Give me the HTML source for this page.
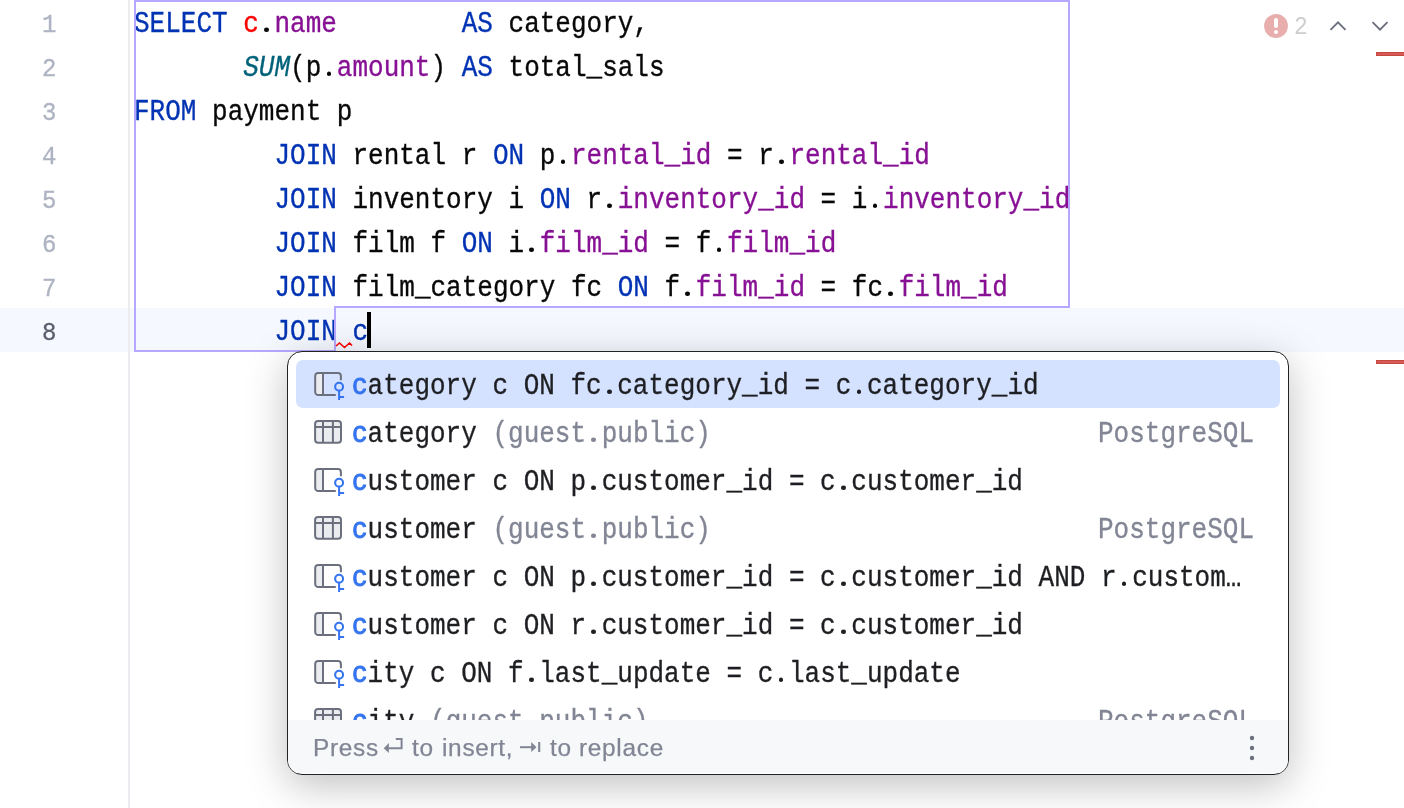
<!DOCTYPE html>
<html><head><meta charset="utf-8">
<style>
*{margin:0;padding:0;box-sizing:border-box}
html,body{width:1404px;height:808px;overflow:hidden;background:#fff}
body{position:relative;font-family:"Liberation Mono",monospace}
.code,.t,.db,.ln{will-change:transform;-webkit-text-stroke:0.3px currentColor}
.curline{position:absolute;left:0;top:308px;width:1404px;height:44px;background:#F5F8FE}
.gsep{position:absolute;left:128px;top:0;width:2px;height:808px;background:#EBECF0}
.ln{position:absolute;left:30px;width:38.4px;text-align:center;font-size:24px;color:#AEB3C2;line-height:44px;height:44px;transform:scaleY(1.10);transform-origin:0 29px;margin-top:4px}
.ln.cur{color:#5A5D6B}
.code{position:absolute;left:134px;font-size:26px;line-height:44px;height:44px;white-space:pre;color:#080808;transform:scaleY(1.10);transform-origin:0 29px;margin-top:3px}
.k{color:#0033B3}
.f{color:#871094}
.fn{color:#00627A;font-style:italic}
.r{color:#FF0000}
.outline{position:absolute;left:0;top:0}
.caret{position:absolute;left:367px;top:312px;width:4px;height:36px;background:#000}

.pop{position:absolute;left:287px;top:351px;width:1002px;height:424px;border:1px solid #222;border-radius:15px;background:#fff;overflow:hidden;box-shadow:0 10px 40px rgba(0,0,0,0.25)}
.sel{position:absolute;left:8px;top:8px;width:984px;height:48px;background:#D4E2FF;border-radius:7px}
.row{position:absolute;left:0;width:1000px;height:48px}
.ic{position:absolute;left:24px;top:10px}
.t{position:absolute;left:64px;top:0;font-size:26px;line-height:44px;white-space:pre;color:#1E1F22;transform:scaleY(1.10);transform-origin:0 29px;margin-top:5px}
.t b{color:#3574F0;font-weight:normal;-webkit-text-stroke:0.9px #3574F0}
.t i{font-style:normal;color:#818594}
.db{position:absolute;right:34px;top:0;font-size:26px;line-height:44px;white-space:pre;color:#818594;transform:scaleY(1.10);transform-origin:0 29px;margin-top:5px}
.foot{position:absolute;left:0;top:368px;width:1000px;height:53px;background:#F7F8FA}
.fw{will-change:transform;-webkit-text-stroke:0.25px currentColor;position:absolute;top:1px;font-family:"Liberation Sans",sans-serif;font-size:24.4px;line-height:53px;color:#818594;white-space:pre;letter-spacing:0.7px}
.fa{position:absolute}
.dots{position:absolute;left:961px;top:15px}
.cnt{position:absolute;left:1294.5px;top:4px;font-family:"Liberation Sans",sans-serif;font-size:23px;line-height:44px;color:#CDCDCD}
.u{position:relative;top:-1px}
.p{position:relative;-webkit-text-fill-color:transparent;-webkit-text-stroke:0}
.p::after{content:"";position:absolute;left:5.3px;top:17.9px;width:4.6px;height:3.8px;border-radius:50%;background:currentColor}
</style></head><body>
<div class="curline"></div>
<div class="gsep"></div>

<div class="ln" style="top:0">1</div>
<div class="ln" style="top:44px">2</div>
<div class="ln" style="top:88px">3</div>
<div class="ln" style="top:132px">4</div>
<div class="ln" style="top:176px">5</div>
<div class="ln" style="top:220px">6</div>
<div class="ln" style="top:264px">7</div>
<div class="ln cur" style="top:308px">8</div>

<div class="code" style="top:0"><span class="k">SELECT</span> <span class="r">c</span><span class="p">.</span><span class="f">name</span>        <span class="k">AS</span> category,</div>
<div class="code" style="top:44px">       <span class="fn">SUM</span>(p<span class="p">.</span><span class="f">amount</span>) <span class="k">AS</span> total<span class="u">_</span>sals</div>
<div class="code" style="top:88px"><span class="k">FROM</span> payment p</div>
<div class="code" style="top:132px">         <span class="k">JOIN</span> rental r <span class="k">ON</span> p<span class="p">.</span><span class="f">rental<span class="u">_</span>id</span> = r<span class="p">.</span><span class="f">rental<span class="u">_</span>id</span></div>
<div class="code" style="top:176px">         <span class="k">JOIN</span> inventory i <span class="k">ON</span> r<span class="p">.</span><span class="f">inventory<span class="u">_</span>id</span> = i<span class="p">.</span><span class="f">inventory<span class="u">_</span>id</span></div>
<div class="code" style="top:220px">         <span class="k">JOIN</span> film f <span class="k">ON</span> i<span class="p">.</span><span class="f">film<span class="u">_</span>id</span> = f<span class="p">.</span><span class="f">film<span class="u">_</span>id</span></div>
<div class="code" style="top:264px">         <span class="k">JOIN</span> film<span class="u">_</span>category fc <span class="k">ON</span> f<span class="p">.</span><span class="f">film<span class="u">_</span>id</span> = fc<span class="p">.</span><span class="f">film<span class="u">_</span>id</span></div>
<div class="code" style="top:308px">         <span class="k">JOIN</span> <span class="k">c</span></div>

<svg class="outline" width="1404" height="808">
<path d="M135,1 H1069 V307 H335 V351 H135 Z" fill="none" stroke="#B7A8FF" stroke-width="2"/>
<path d="M336,346 L339.5,343 L344.5,347.5 L349.5,343 L352,345.5" fill="none" stroke="#FF0000" stroke-width="1.6"/>
</svg>
<div class="caret"></div>
<svg style="position:absolute;left:0;top:0" width="1404" height="808">
<circle cx="1276" cy="26" r="11.9" fill="#E8ADAD"/>
<path d="M1276,20 V26" stroke="#fff" stroke-width="4" stroke-linecap="round"/>
<circle cx="1276" cy="32" r="2.05" fill="#fff"/>
<path d="M1330.5,29.8 L1338,22.3 L1345.5,29.8" fill="none" stroke="#6C707E" stroke-width="1.9"/>
<path d="M1372.5,22.2 L1380,29.7 L1387.5,22.2" fill="none" stroke="#6C707E" stroke-width="1.9"/>
<rect x="1376.5" y="52.5" width="28" height="3" fill="#D35C57" stroke="#C9473F" stroke-width="1"/>
<rect x="1376.5" y="360.5" width="28" height="3" fill="#D35C57" stroke="#C9473F" stroke-width="1"/>
</svg>
<div class="cnt">2</div>


<div class="pop">
<div class="sel"></div>
<div class="row" style="top:8px"><svg class="ic" width="36" height="34" viewBox="0 0 36 34"><use href="#ij"/></svg><span class="t"><b>c</b>ategory c ON fc<span class="p">.</span>category<span class="u">_</span>id = c<span class="p">.</span>category<span class="u">_</span>id</span></div>
<div class="row" style="top:56px"><svg class="ic" width="36" height="34" viewBox="0 0 36 34"><use href="#it"/></svg><span class="t"><b>c</b>ategory <i>(guest<span class="p">.</span>public)</i></span><span class="db">PostgreSQL</span></div>
<div class="row" style="top:104px"><svg class="ic" width="36" height="34" viewBox="0 0 36 34"><use href="#ij"/></svg><span class="t"><b>c</b>ustomer c ON p<span class="p">.</span>customer<span class="u">_</span>id = c<span class="p">.</span>customer<span class="u">_</span>id</span></div>
<div class="row" style="top:152px"><svg class="ic" width="36" height="34" viewBox="0 0 36 34"><use href="#it"/></svg><span class="t"><b>c</b>ustomer <i>(guest<span class="p">.</span>public)</i></span><span class="db">PostgreSQL</span></div>
<div class="row" style="top:200px"><svg class="ic" width="36" height="34" viewBox="0 0 36 34"><use href="#ij"/></svg><span class="t"><b>c</b>ustomer c ON p<span class="p">.</span>customer<span class="u">_</span>id = c<span class="p">.</span>customer<span class="u">_</span>id AND r<span class="p">.</span>custom…</span></div>
<div class="row" style="top:248px"><svg class="ic" width="36" height="34" viewBox="0 0 36 34"><use href="#ij"/></svg><span class="t"><b>c</b>ustomer c ON r<span class="p">.</span>customer<span class="u">_</span>id = c<span class="p">.</span>customer<span class="u">_</span>id</span></div>
<div class="row" style="top:296px"><svg class="ic" width="36" height="34" viewBox="0 0 36 34"><use href="#ij"/></svg><span class="t"><b>c</b>ity c ON f<span class="p">.</span>last<span class="u">_</span>update = c<span class="p">.</span>last<span class="u">_</span>update</span></div>
<div class="row" style="top:344px"><svg class="ic" width="36" height="34" viewBox="0 0 36 34"><use href="#it"/></svg><span class="t"><b>c</b>ity <i>(guest<span class="p">.</span>public)</i></span><span class="db">PostgreSQL</span></div>
<div class="foot">
<span class="fw" style="left:24.5px">Press</span>
<svg class="fa" style="left:94px;top:17px" width="22" height="18" viewBox="0 0 22 18"><path d="M1.7,11.3 L6.9,6.1 V16 Z" fill="#818594"/><path d="M6.5,11.2 H19.6 V2 H13.8" fill="none" stroke="#818594" stroke-width="2"/></svg>
<span class="fw" style="left:123.5px">to</span>
<span class="fw" style="left:153.5px">insert,</span>
<svg class="fa" style="left:230px;top:14px" width="24" height="18" viewBox="0 0 24 18"><path d="M2,13.2 H14" fill="none" stroke="#818594" stroke-width="2"/><path d="M13.2,8 L18.5,13.2 L13.2,18 Z" fill="#818594"/><path d="M21.2,8 V18" fill="none" stroke="#818594" stroke-width="2.1"/></svg>
<span class="fw" style="left:262px">to</span>
<span class="fw" style="left:290.5px">replace</span>
<svg class="dots" width="6" height="26" viewBox="0 0 6 26"><circle cx="3" cy="3" r="2.2" fill="#6C707E"/><circle cx="3" cy="13" r="2.2" fill="#6C707E"/><circle cx="3" cy="23" r="2.2" fill="#6C707E"/></svg></div>
</div>
<svg width="0" height="0" style="position:absolute">
<defs>
<g id="ij">
<rect x="4" y="3.8" width="6.2" height="20.3" fill="#EBECF0"/>
<path d="M28.9,10.3 V5.9 A3,3 0 0 0 25.9,2.9 H6.2 A3,3 0 0 0 3.2,5.9 V22 A3,3 0 0 0 6.2,25 H23.8" fill="none" stroke="#6C707E" stroke-width="2"/>
<path d="M11,2.9 V25" fill="none" stroke="#6C707E" stroke-width="2"/>
<circle cx="27.1" cy="16.7" r="3.95" fill="none" stroke="#3574F0" stroke-width="2.1"/>
<path d="M27.1,20.6 V29.9 M27.1,27 H32.1" fill="none" stroke="#3574F0" stroke-width="2"/>
</g>
<g id="it">
<rect x="3.1" y="2.9" width="25.9" height="21.9" rx="3" fill="#EBECF0" stroke="#6C707E" stroke-width="2"/>
<path d="M3.1,8.9 H29 M11,2.9 V24.8 M20.9,2.9 V24.8" fill="none" stroke="#6C707E" stroke-width="2"/>
</g>
</defs></svg>


</body></html>
